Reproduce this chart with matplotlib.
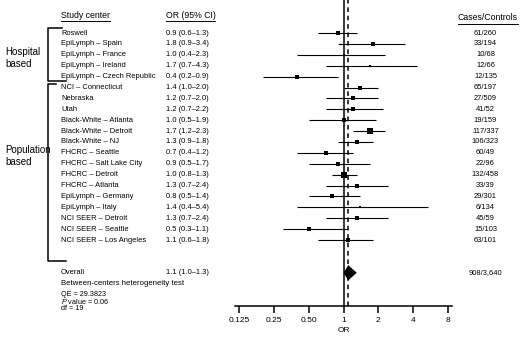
import numpy as np
import matplotlib
matplotlib.use("Agg")
import matplotlib.pyplot as plt
from matplotlib import transforms

plt.rcParams['font.family'] = ['Liberation Sans', 'DejaVu Sans']
plt.rcParams['mathtext.fontset'] = 'custom'
plt.rcParams['mathtext.it'] = 'Liberation Sans:italic'
plt.rcParams['mathtext.rm'] = 'Liberation Sans'

centers = ["Roswell", "EpiLymph – Spain", "EpiLymph – France", "EpiLymph – Ireland",
           "EpiLymph – Czech Republic", "NCI – Connecticut", "Nebraska", "Utah",
           "Black-White – Atlanta", "Black-White – Detroit", "Black-White – NJ",
           "FHCRC – Seattle", "FHCRC – Salt Lake City", "FHCRC – Detroit",
           "FHCRC – Atlanta", "EpiLymph – Germany", "EpiLymph – Italy",
           "NCI SEER – Detroit", "NCI SEER – Seattle", "NCI SEER – Los Angeles"]
odds = [0.9, 1.8, 1.0, 1.7, 0.4, 1.4, 1.2, 1.2, 1.0, 1.7, 1.3, 0.7, 0.9, 1.0, 1.3,
        0.8, 1.4, 1.3, 0.5, 1.1]
ci_low = [0.6, 0.9, 0.4, 0.7, 0.2, 1.0, 0.7, 0.7, 0.5, 1.2, 0.9, 0.4, 0.5, 0.8, 0.7,
          0.5, 0.4, 0.7, 0.3, 0.6]
ci_high = [1.3, 3.4, 2.3, 4.3, 0.9, 2.0, 2.0, 2.2, 1.9, 2.3, 1.8, 1.2, 1.7, 1.3, 2.4,
           1.4, 5.4, 2.4, 1.1, 1.8]
cases_controls = ["61/260", "33/194", "10/68", "12/66", "12/135", "65/197", "27/509",
                  "41/52", "19/159", "117/337", "106/323", "60/49", "22/96", "132/458",
                  "33/39", "29/301", "6/134", "45/59", "15/103", "63/101"]
overall = (1.1, 1.0, 1.3)
overall_n = "908/3,640"
xticks = [0.125, 0.25, 0.5, 1, 2, 4, 8]
xtick_labels = ["0.125", "0.25", "0.50", "1", "2", "4", "8"]

W, H = 520, 341
fig = plt.figure(figsize=(W / 100, H / 100), dpi=100)
ax = fig.add_axes([235 / W, 1 - 306 / H, (452 - 235) / W, 306 / H])
ax.set_xscale('log', base=2)
ax.set_xlim(0.1154, 8.66)
ax.set_ylim(25.05, -3.03)

rows = np.arange(len(centers))
odds = np.array(odds)
lo = np.array(ci_low)
hi = np.array(ci_high)

# marker size from inverse variance weight
se = (np.log(hi) - np.log(lo)) / 3.92
side_px = 1.6 + 0.58 * np.sqrt(1 / se**2)

ax.axvline(1, color='black', lw=1.1, zorder=1)
ax.axvline(overall[0], color='black', lw=1.1, ls=(0, (3, 2.5)), zorder=1)
ax.hlines(rows, lo, hi, color='black', lw=0.8, zorder=2)
for r, o, s in zip(rows, odds, side_px):
    ax.plot(o, r, marker='s', color='black', ms=s * 0.72, mew=0, zorder=3)

# overall diamond
oy = 22
ax.fill([overall[1], overall[0], overall[2], overall[0]],
        [oy, oy - 0.7, oy, oy + 0.7], color='black', lw=0, zorder=3)

for sp in ['top', 'left', 'right']:
    ax.spines[sp].set_visible(False)
ax.spines['bottom'].set_linewidth(1.1)
ax.set_yticks([])
ax.set_xticks(xticks)
ax.set_xticklabels(xtick_labels)
ax.minorticks_off()
ax.tick_params(axis='x', direction='out', length=5, width=1.1, pad=3, labelsize=6)
ax.set_xlabel("OR", fontsize=6, labelpad=2)

tr = transforms.blended_transform_factory(fig.transFigure, ax.transData)
fs = 5.4

def fx(px):
    return px / W

for r, name, o, l, h, n in zip(rows, centers, odds, lo, hi, cases_controls):
    ax.text(fx(61), r, name, transform=tr, fontsize=fs, va='center', clip_on=False)
    ax.text(fx(165.5), r, f"{o:.1f} ({l:.1f}–{h:.1f})", transform=tr, fontsize=fs,
            va='center', clip_on=False)
    ax.text(fx(485.5), r, n, transform=tr, fontsize=fs, va='center', ha='center',
            clip_on=False)

ax.text(fx(61), oy, "Overall", transform=tr, fontsize=fs, va='center', clip_on=False)
ax.text(fx(165.5), oy, f"{overall[0]:.1f} ({overall[1]:.1f}–{overall[2]:.1f})",
        transform=tr, fontsize=fs, va='center', clip_on=False)
ax.text(fx(485.5), oy, overall_n, transform=tr, fontsize=fs, va='center',
        ha='center', clip_on=False)

ax.text(fx(61), 23.0, "Between-centers heterogeneity test", transform=tr,
        fontsize=5.6, va='center', clip_on=False)
ax.text(fx(61), 23.95, "QE = 29.3823", transform=tr, fontsize=5.2, va='center', clip_on=False)
ax.text(fx(61), 24.6, r"$\it{P}$ value = 0.06", transform=tr, fontsize=5.2, va='center',
        clip_on=False)
ax.text(fx(61), 25.25, "df = 19", transform=tr, fontsize=5.2, va='center', clip_on=False)

# headers with underline
headers = [(61, -1.6, "Study center", 'left'), (165.5, -1.6, "OR (95% CI)", 'left'),
           (487.5, -1.4, "Cases/Controls", 'center')]
htexts = []
for x, y, s, ha in headers:
    htexts.append(ax.text(fx(x), y, s, transform=tr, fontsize=6.3, va='center', ha=ha,
                          clip_on=False))
fig.canvas.draw()
inv = fig.transFigure.inverted()
for t in htexts:
    bb = t.get_window_extent()
    (x0, y0), (x1, _) = inv.transform([(bb.x0, bb.y0), (bb.x1, bb.y1)])
    fig.add_artist(plt.Line2D([x0, x1], [y0 - 0.004, y0 - 0.004], color='black', lw=0.7))

# group brackets
def bline(xs, ys):
    ax.plot([fx(x) for x in xs], ys, color='black', lw=1.1, transform=tr, clip_on=False)

bline([62, 48, 48, 66], [-0.45, -0.45, 4.4, 4.4])
bline([56, 48, 48, 66], [4.68, 4.68, 20.9, 20.9])
ax.text(fx(5), 2.25, "Hospital\nbased", transform=tr, fontsize=7, va='center',
        linespacing=1.25, clip_on=False)
ax.text(fx(5), 11.3, "Population\nbased", transform=tr, fontsize=7, va='center',
        linespacing=1.25, clip_on=False)

fig.savefig("out.png", dpi=100)
